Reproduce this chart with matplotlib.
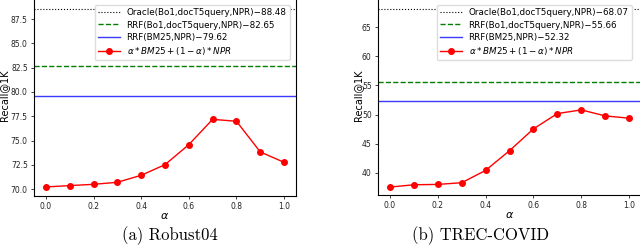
import numpy as np
import matplotlib
matplotlib.use("Agg")
import matplotlib.pyplot as plt
from matplotlib.ticker import FormatStrFormatter

plt.rcParams['mathtext.fontset'] = 'dejavusans'

alpha = [0.0, 0.1, 0.2, 0.3, 0.4, 0.5, 0.6, 0.7, 0.8, 0.9, 1.0]

# Robust04
robust_interp = [70.24, 70.38, 70.51, 70.72, 71.44, 72.53, 74.59, 77.19, 76.99, 73.84, 72.77]
robust_oracle = 88.48
robust_rrf3 = 82.65
robust_rrf2 = 79.62

# TREC-COVID
covid_interp = [37.53, 37.93, 37.99, 38.28, 40.40, 43.79, 47.53, 50.17, 50.80, 49.77, 49.37]
covid_oracle = 68.07
covid_rrf3 = 55.66
covid_rrf2 = 52.32

W, H = 640, 252
fig = plt.figure(figsize=(W / 100, H / 100), dpi=100)


def draw(ax_box, ylim, yticks, interp, oracle, rrf3, rrf2, leg_anchor, caption, cap_x, ylab_x):
    x0, x1, ytop, ybot = ax_box
    ax = fig.add_axes([x0 / W, 1 - ybot / H, (x1 - x0) / W, (ybot - ytop) / H])
    ax.axhline(oracle, color='black', linestyle=':', linewidth=0.8,
               label='Oracle(Bo1,docT5query,NPR)\u2212%.2f' % oracle)
    ax.axhline(rrf3, color='green', linestyle='--', linewidth=1.0,
               label='RRF(Bo1,docT5query,NPR)\u2212%.2f' % rrf3)
    ax.axhline(rrf2, color='#3a3aff', linestyle='-', linewidth=1.0,
               label='RRF(BM25,NPR)\u2212%.2f' % rrf2)
    ax.plot(alpha, interp, color='red', marker='o', markersize=4, linewidth=1.0,
            label=r'$\alpha*BM25+(1-\alpha)*NPR$')
    ax.set_ylim(*ylim)
    ax.set_yticks(yticks)
    ax.set_xticks([0.0, 0.2, 0.4, 0.6, 0.8, 1.0])
    ax.xaxis.set_major_formatter(FormatStrFormatter('%.1f'))
    ax.tick_params(labelsize=5.5, length=2.5, width=0.6, pad=2, colors='#222222')
    for s in ax.spines.values():
        s.set_linewidth(0.8)
    ax.set_xlabel(r'$\alpha$', fontsize=8, labelpad=0)
    ax.set_ylabel('Recall@1K', fontsize=7)
    ax.yaxis.set_label_coords((ylab_x - x0) / (x1 - x0), 0.5)
    ax.legend(loc='upper right', bbox_to_anchor=(leg_anchor[0] / W, 1 - leg_anchor[1] / H),
              bbox_transform=fig.transFigure, fontsize=6.3, handlelength=2.5,
              borderpad=0.35, labelspacing=0.35, framealpha=1.0, edgecolor='#dddddd')
    fig.text(cap_x / W, 1 - 236 / H, caption, ha='center', va='center', fontsize=12,
             family='cmr10')
    return ax


ax1 = draw((34, 296, -5, 196), (69.31, 89.97), [70.0, 72.5, 75.0, 77.5, 80.0, 82.5, 85.0, 87.5],
           robust_interp, robust_oracle, robust_rrf3, robust_rrf2, (294, 1),
           '(a) Robust04', 170, 9)
ax1.yaxis.set_major_formatter(FormatStrFormatter('%.1f'))

ax2 = draw((378, 641, -5, 195), (36.17, 70.55), [40, 45, 50, 55, 60, 65],
           covid_interp, covid_oracle, covid_rrf3, covid_rrf2, (636, 1),
           '(b) TREC-COVID', 480, 363)

fig.savefig('out.png', dpi=100)
